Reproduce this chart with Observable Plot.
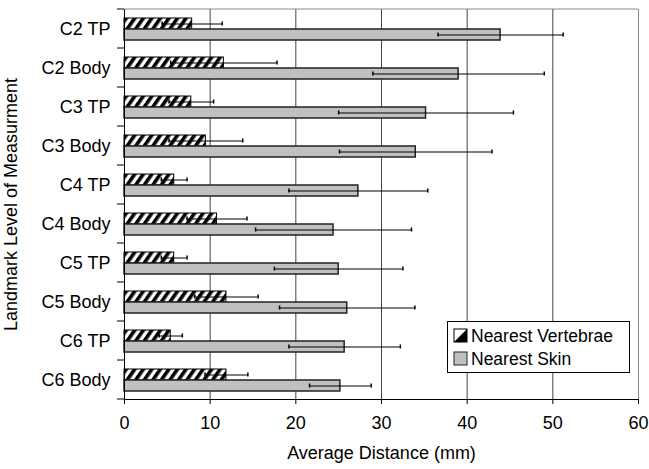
<!DOCTYPE html>
<html>
<head>
<meta charset="utf-8">
<script src="https://cdn.jsdelivr.net/npm/d3@7"></script>
<script src="https://cdn.jsdelivr.net/npm/@observablehq/plot@0.6"></script>
<style>
  html, body { margin: 0; padding: 0; background: white; }
  #wrap { position: relative; width: 649px; height: 469px; font-family: "Liberation Sans", Arial, sans-serif; }
  #legend { position: absolute; left: 447px; top: 321px; width: 181px; height: 50px; border: 1px solid black; background: white; font-size: 17.5px; }
  #legend .row { position: absolute; left: 5px; height: 20px; display: flex; align-items: center; }
  #legend .row svg { margin-right: 2px; }
</style>
</head>
<body>
<div id="wrap"></div>
<script>
const categories = ["C2 TP", "C2 Body", "C3 TP", "C3 Body", "C4 TP", "C4 Body", "C5 TP", "C5 Body", "C6 TP", "C6 Body"];
const series = ["Nearest Vertebrae", "Nearest Skin"];
const vertMean = [7.9, 11.6, 7.8, 9.5, 5.8, 10.8, 5.8, 11.9, 5.4, 11.9];
const vertSD = [3.5, 6.2, 2.6, 4.3, 1.5, 3.5, 1.5, 3.7, 1.35, 2.5];
const skinMean = [43.9, 39.0, 35.2, 34.0, 27.3, 24.4, 25.0, 26.0, 25.7, 25.2];
const skinSD = [7.3, 10.0, 10.2, 8.9, 8.1, 9.1, 7.5, 7.9, 6.5, 3.6];
const xTicks = [0, 10, 20, 30, 40, 50, 60];

const rows = categories.flatMap((c, i) => [
  {cat: c, series: series[0], mean: vertMean[i], sd: vertSD[i]},
  {cat: c, series: series[1], mean: skinMean[i], sd: skinSD[i]}
]);

const chart = Plot.plot({
  width: 649,
  height: 469,
  marginLeft: 124,
  marginRight: 11,
  marginTop: 9,
  marginBottom: 70,
  style: {fontFamily: "'Liberation Sans', Arial, sans-serif", fontSize: "18px", color: "black", background: "white", overflow: "visible"},
  facet: {data: rows, y: "cat"},
  fy: {domain: categories, padding: 0, axis: "left", tickSize: 0, tickPadding: 14,
       label: "Landmark Level of Measurment", labelAnchor: "center", labelOffset: 120},
  y: {domain: series, paddingInner: 0, paddingOuter: 0.7, axis: null},
  x: {domain: [0, 60], ticks: xTicks, tickSize: 5, tickPadding: 12, line: true,
      label: "Average Distance (mm)", labelAnchor: "center", labelOffset: 59, labelArrow: false},
  marks: [
    Plot.ruleX(xTicks.slice(1, 6), {stroke: "#444", strokeWidth: 1}),
    Plot.ruleX([60], {stroke: "#888", strokeWidth: 1}),
    Plot.barX(rows, {filter: d => d.series === series[0], x: "mean", y: "series", fill: "url(#hatch)", stroke: "black", strokeWidth: 1}),
    Plot.barX(rows, {filter: d => d.series === series[1], x: "mean", y: "series", fill: "#c0c0c0", stroke: "#222", strokeWidth: 1.5}),
    Plot.ruleY(rows, {y: "series", x1: d => d.mean - d.sd, x2: d => d.mean + d.sd, stroke: "black", strokeWidth: 1}),
    Plot.tickX(rows, {y: "series", x: d => d.mean - d.sd, insetTop: 3.5, insetBottom: 3.5, stroke: "black", strokeWidth: 1.5}),
    Plot.tickX(rows, {y: "series", x: d => d.mean + d.sd, insetTop: 3.5, insetBottom: 3.5, stroke: "black", strokeWidth: 1.5}),
    Plot.ruleX([0], {stroke: "black", strokeWidth: 1})
  ]
});

document.getElementById("wrap").appendChild(chart);

// hatch pattern + decorative frame / boundary ticks derived from Plot's scales
const svg = d3.select(chart.tagName.toLowerCase() === "svg" ? chart : chart.querySelector("svg"));
const defs = svg.insert("defs", ":first-child");
const pat = defs.append("pattern").attr("id", "hatch").attr("patternUnits", "userSpaceOnUse")
  .attr("width", 7).attr("height", 7).attr("patternTransform", "rotate(35)");
pat.append("rect").attr("width", 7).attr("height", 7).attr("fill", "white");
pat.append("rect").attr("width", 3.6).attr("height", 7).attr("fill", "black");

const xs = chart.scale("x");
const fys = chart.scale("fy");
const band = d3.scaleBand().domain(fys.domain).range(fys.range).paddingInner(0).paddingOuter(0);
const [x0, x1] = xs.range;
const g = svg.append("g");
const bounds = fys.domain.map(d => band(d)).concat([band(fys.domain[fys.domain.length - 1]) + band.step()]);
g.selectAll("line.bt").data(bounds).join("line")
  .attr("x1", x0 - 7).attr("x2", x0).attr("y1", d => d).attr("y2", d => d)
  .attr("stroke", "black");
g.append("line").attr("x1", x0).attr("x2", x1).attr("y1", bounds[0]).attr("y2", bounds[0]).attr("stroke", "#888");

// legend
const legend = document.createElement("div");
legend.id = "legend";
legend.innerHTML = `
  <div class="row" style="top:4px">
    <svg width="16" height="16"><rect x="1" y="1" width="13" height="13" fill="white" stroke="black"/><path d="M14,1 L14,14 L1,14 Z" fill="black"/></svg>${series[0]}
  </div>
  <div class="row" style="top:27px">
    <svg width="16" height="16"><rect x="1" y="1" width="13" height="13" fill="#c0c0c0" stroke="#222"/></svg>${series[1]}
  </div>`;
document.getElementById("wrap").appendChild(legend);
</script>
</body>
</html>
